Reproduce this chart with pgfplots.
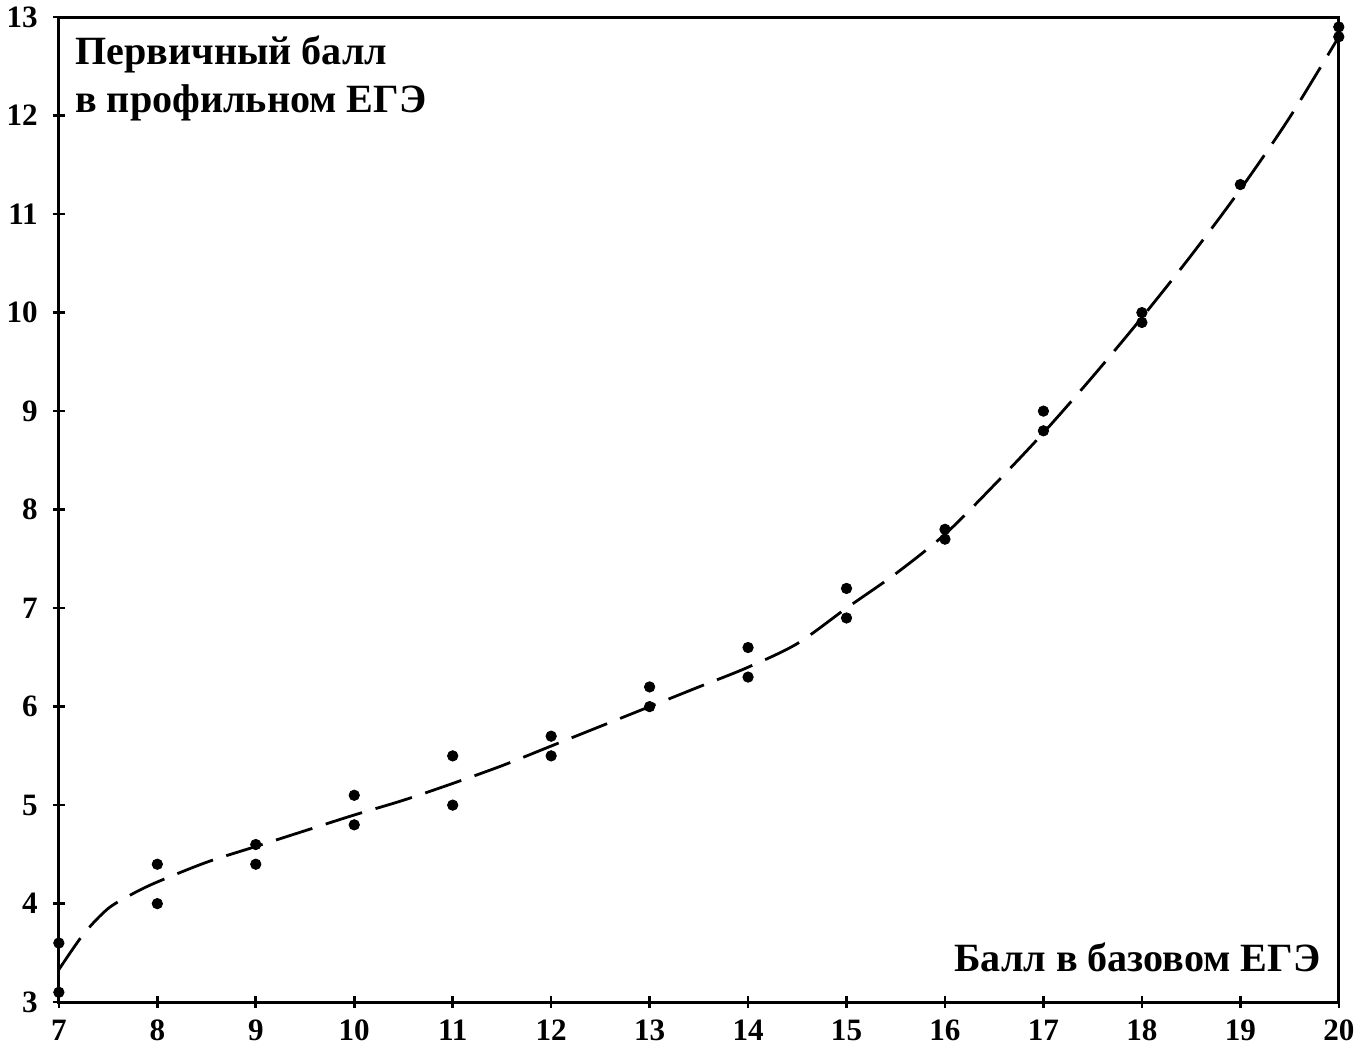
\documentclass[border=0pt]{standalone}
\usepackage{fontspec}
\setmainfont{Liberation Serif}
\usepackage{pgfplots}
\pgfplotsset{compat=1.18}
\begin{document}
\begin{tikzpicture}
\begin{axis}[
  scale only axis,
  width=638bp, height=491bp,
  xmin=7, xmax=20, ymin=3, ymax=13,
  xtick={7,...,20}, ytick={3,...,13},
  xtick pos=bottom, ytick pos=left,
  axis line style={line width=1.5bp},
  tick style={line width=1.3bp, black},
  tick align=center,
  major tick length=6bp,
  /pgf/number format/assume math mode=true,
  ticklabel style={font=\fontsize{15.5bp}{17bp}\selectfont\bfseries},
  xticklabel style={yshift=-2.5bp},
  yticklabel style={xshift=-4bp},
  clip=false,
]
\addplot[black, line width=1.4bp, dash pattern=on 19bp off 7bp, smooth, tension=0.5] coordinates {
(7,3.33) (7.25,3.69) (7.5,3.95) (7.75,4.1) (8,4.22) (8.5,4.42) (9,4.58) (9.5,4.74) (10,4.9) (10.5,5.05)
(11,5.22) (11.5,5.4) (12,5.6) (12.5,5.8) (13,6.0) (13.5,6.2) (14,6.4) (14.5,6.64) (15,7.0)
(15.5,7.35) (16,7.75) (16.5,8.25) (17,8.78) (17.5,9.35) (18,9.95) (18.5,10.58) (19,11.25)
(19.5,11.98) (20,12.8)};
\addplot[only marks, mark=*, mark size=2.6bp, black] coordinates {
(7,3.6) (7,3.1) (8,4.4) (8,4.0) (9,4.6) (9,4.4) (10,5.1) (10,4.8) (11,5.5) (11,5.0)
(12,5.7) (12,5.5) (13,6.2) (13,6.0) (14,6.6) (14,6.3) (15,7.2) (15,6.9) (16,7.8) (16,7.7)
(17,9.0) (17,8.8) (18,10.0) (18,9.9) (19,11.3) (20,12.9) (20,12.8)};
\node[anchor=north west, align=left, inner sep=0pt, font=\fontsize{20bp}{23.5bp}\selectfont\bfseries]
  at (rel axis cs:0.0125,0.981) {Первичный балл\\в профильном ЕГЭ};
\node[anchor=base east, inner sep=0pt, font=\fontsize{20bp}{23.5bp}\selectfont\bfseries]
  at (rel axis cs:0.986,0.031) {Балл в базовом ЕГЭ};
\end{axis}
\end{tikzpicture}
\end{document}
